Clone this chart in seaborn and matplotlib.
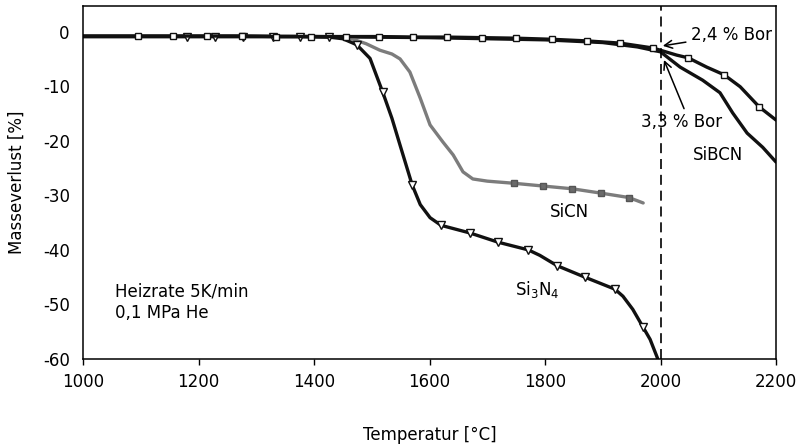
import matplotlib
matplotlib.use("Agg")
import matplotlib.pyplot as plt
import seaborn as sns
import pandas as pd
import numpy as np

# ---- data ----
si3n4_T = [1000, 1060, 1130, 1180, 1228, 1277, 1329, 1376, 1426, 1450, 1474, 1497,
           1519, 1535, 1549, 1570, 1584, 1601, 1620, 1670, 1719, 1771, 1791, 1821,
           1869, 1921, 1935, 1952, 1970, 1982, 1995]
si3n4_v = [-0.9, -0.9, -0.9, -0.9, -0.9, -0.9, -0.9, -0.9, -1.0, -1.3, -2.4, -4.9,
           -11.1, -15.9, -20.8, -28.1, -31.7, -34.1, -35.5, -36.9, -38.6, -40.0, -41.0, -42.9,
           -45.0, -47.2, -48.5, -50.9, -54.2, -56.4, -59.9]
si3n4_marker_T = [1180, 1228, 1277, 1329, 1376, 1426, 1474, 1519, 1570, 1620, 1670,
                  1719, 1771, 1821, 1869, 1921, 1970]

sicn_T = [1000, 1100, 1200, 1300, 1400, 1440, 1462, 1490, 1514, 1535, 1549, 1566, 1584,
          1601, 1623, 1641, 1658, 1675, 1700, 1747, 1797, 1847, 1897, 1945, 1970]
sicn_v = [-0.8, -0.8, -0.8, -0.8, -0.9, -1.0, -1.2, -2.2, -3.4, -4.1, -5.0, -7.4, -12.2,
          -17.1, -20.2, -22.6, -25.7, -27.0, -27.4, -27.8, -28.3, -28.8, -29.6, -30.4, -31.4]
sicn_marker_T = [1747, 1797, 1847, 1897, 1945]

sibcn24_T = [1000, 1095, 1155, 1215, 1275, 1335, 1395, 1455, 1512, 1571, 1631, 1691,
             1750, 1812, 1873, 1930, 1987, 2028, 2048, 2080, 2110, 2138, 2171, 2200]
sibcn24_v = [-0.8, -0.8, -0.8, -0.8, -0.8, -0.9, -0.9, -0.9, -0.9, -1.0, -1.0, -1.1,
             -1.2, -1.4, -1.7, -2.1, -3.0, -4.3, -4.8, -6.5, -7.9, -10.1, -13.8, -16.2]
sibcn24_marker_T = [1095, 1155, 1215, 1275, 1335, 1395, 1455, 1512, 1571, 1631, 1691,
                    1750, 1812, 1873, 1930, 1987, 2048, 2110, 2171]

sibcn33_T = [1000, 1200, 1400, 1600, 1800, 1900, 1960, 2000, 2034, 2073, 2103, 2125,
             2150, 2177, 2200]
sibcn33_v = [-0.9, -0.9, -0.9, -1.1, -1.5, -2.0, -2.8, -3.7, -6.5, -8.9, -11.2, -14.9,
             -18.6, -21.2, -23.9]

x_ticks = [1000, 1200, 1400, 1600, 1800, 2000, 2200]
y_ticks = [0, -10, -20, -30, -40, -50, -60]

sns.set_style("white")
plt.rcParams['font.family'] = ['DejaVu Sans']
plt.rcParams['mathtext.fontset'] = 'dejavusans'
plt.rcParams['text.color'] = 'black'
plt.rcParams['axes.labelcolor'] = 'black'
plt.rcParams['xtick.color'] = 'black'
plt.rcParams['ytick.color'] = 'black'

fig = plt.figure(figsize=(8.01, 4.46), dpi=100)
ax = fig.add_axes([83 / 801, 1 - 359 / 446, (776 - 83) / 801, (359 - 6) / 446])


def idx(T, mT):
    return [i for i, t in enumerate(T) if t in mT]


def draw(T, v, color, lw, marker=None, mT=None, mfc='white', ms=5.5):
    df = pd.DataFrame({'T': T, 'v': v})
    kw = {}
    if marker is not None:
        kw = dict(marker=marker, markevery=idx(T, mT), markerfacecolor=mfc,
                  markeredgecolor=color if mfc == 'white' else '#555555',
                  markersize=ms, markeredgewidth=1.0)
    sns.lineplot(data=df, x='T', y='v', ax=ax, color=color, linewidth=lw,
                 sort=False, estimator=None, **kw)


draw(sibcn33_T, sibcn33_v, '#111111', 2.4)
draw(sicn_T, sicn_v, '#7c7c7c', 2.4, marker='s', mT=sicn_marker_T, mfc='#6a6a6a', ms=4.5)
draw(si3n4_T, si3n4_v, '#111111', 2.4, marker='v', mT=si3n4_marker_T, ms=6)
draw(sibcn24_T, sibcn24_v, '#111111', 2.4, marker='s', mT=sibcn24_marker_T, ms=5)

ax.axvline(2000, color='black', lw=1.2, linestyle=(0, (6, 3.5)))

ax.set_xlim(1000, 2200)
ax.set_ylim(-60, 4.7)
ax.set_xticks(x_ticks)
ax.set_yticks(y_ticks)
ax.set_xticklabels([str(t) for t in x_ticks])
ax.set_yticklabels([str(t) for t in y_ticks])
ax.tick_params(axis='x', direction='out', length=4, width=1, pad=6, labelsize=12,
               colors='black', bottom=True)
ax.tick_params(axis='y', length=0, pad=9.5, labelsize=12, colors='black')

for s in ax.spines.values():
    s.set_visible(True)
    s.set_color('black')
    s.set_linewidth(1.1)

ax.set_xlabel('Temperatur [°C]', fontsize=12, labelpad=25, color='black')
ax.set_ylabel('Masseverlust [%]', fontsize=12, labelpad=12, color='black')

fs = 12
ax.text(1055, -49.6, 'Heizrate 5K/min\n0,1 MPa He', fontsize=fs, ha='left', va='center',
        linespacing=1.3, color='black')
ax.text(1842, -33.1, 'SiCN', fontsize=fs, ha='center', va='center', color='black')
ax.text(1786, -47.2, 'Si$_3$N$_4$', fontsize=fs, ha='center', va='center', color='black')
ax.text(2100, -22.7, 'SiBCN', fontsize=fs, ha='center', va='center', color='black')
ax.annotate('2,4 % Bor', xy=(2004, -2.6), xytext=(2052, -0.6), fontsize=fs,
            ha='left', va='center', color='black',
            arrowprops=dict(arrowstyle='->', color='black', lw=1.1, shrinkA=1, shrinkB=0,
                            mutation_scale=14))
ax.annotate('3,3 % Bor', xy=(2006, -5.2), xytext=(2037, -16.6), fontsize=fs,
            ha='center', va='center', color='black',
            arrowprops=dict(arrowstyle='->', color='black', lw=1.1, shrinkA=1, shrinkB=0,
                            relpos=(0.55, 1.0), mutation_scale=14))

fig.savefig('out.png', dpi=100)
